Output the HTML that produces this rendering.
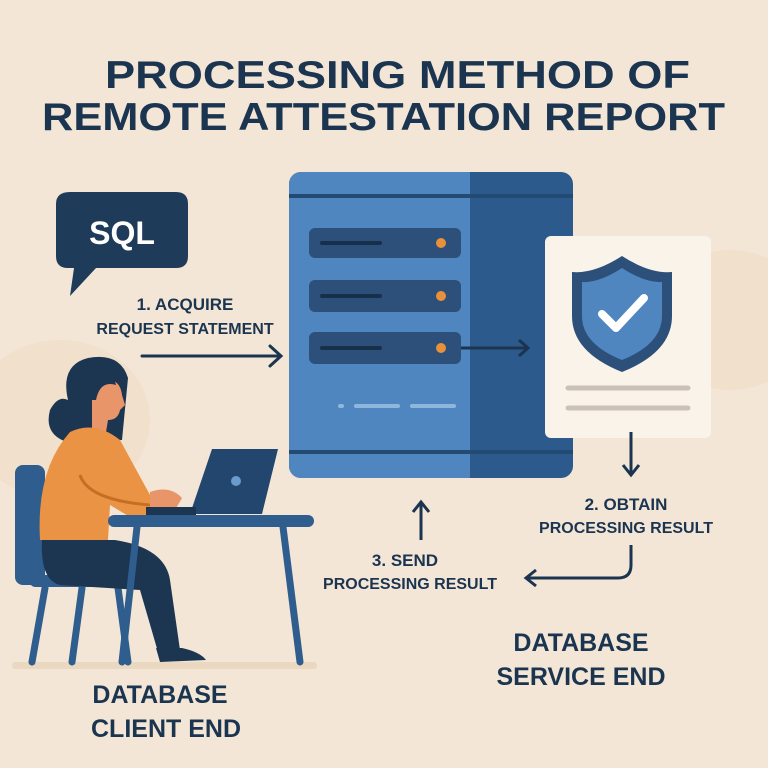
<!DOCTYPE html>
<html><head><style>
body{margin:0;background:#f3e6d6}
svg{display:block}
text{font-family:"Liberation Sans",sans-serif;font-weight:bold;fill:#1b3550}
</style></head><body>
<svg width="768" height="768" viewBox="0 0 768 768">
<rect width="768" height="768" fill="#f3e6d6"/>
<ellipse cx="60" cy="420" rx="90" ry="80" fill="#f0e0cc"/>
<ellipse cx="730" cy="320" rx="80" ry="70" fill="#f0e0cc"/>
<text x="105" y="88" font-size="39" textLength="585" lengthAdjust="spacingAndGlyphs">PROCESSING METHOD OF</text>
<text x="42" y="130" font-size="39" textLength="683" lengthAdjust="spacingAndGlyphs">REMOTE ATTESTATION REPORT</text>
<!-- SQL bubble -->
<path d="M70 192 H176 Q188 192 188 204 V256 Q188 268 176 268 H96 L70 296 L74 268 H68 Q56 268 56 256 V204 Q56 192 70 192Z" fill="#1f3b5a"/>
<text x="122" y="244" font-size="32" text-anchor="middle" style="fill:#fff">SQL</text>
<text x="185" y="310" font-size="17" text-anchor="middle">1. ACQUIRE</text>
<text x="185" y="334" font-size="16" text-anchor="middle">REQUEST STATEMENT</text>
<path d="M142 356 H280 M270 346 L281 356 L270 366" stroke="#1b3550" stroke-width="3" fill="none" stroke-linecap="round"/>
<!-- server -->
<rect x="289" y="172" width="284" height="306" rx="12" fill="#2d5a8c"/>
<rect x="289" y="172" width="191" height="306" rx="12" fill="#4f86c0"/>
<rect x="470" y="172" width="12" height="306" fill="#2d5a8c"/>
<rect x="289" y="194" width="284" height="4" fill="#234a73"/>
<rect x="289" y="450" width="284" height="4" fill="#234a73"/>
<g fill="#2c507a">
<rect x="309" y="228" width="152" height="30" rx="6"/>
<rect x="309" y="280" width="152" height="32" rx="6"/>
<rect x="309" y="332" width="152" height="32" rx="6"/>
</g>
<g stroke="#16304c" stroke-width="4" stroke-linecap="round">
<line x1="322" y1="243" x2="380" y2="243"/><line x1="322" y1="296" x2="380" y2="296"/><line x1="322" y1="348" x2="380" y2="348"/>
</g>
<g fill="#e8903a"><circle cx="441" cy="243" r="5"/><circle cx="441" cy="296" r="5"/><circle cx="441" cy="348" r="5"/></g>
<path d="M461 348 H528 M519 340 L528 348 L519 356" stroke="#1b3550" stroke-width="3" fill="none"/>
<g stroke="#8fb6dc" stroke-width="4" stroke-linecap="round"><line x1="340" y1="406" x2="342" y2="406"/><line x1="356" y1="406" x2="398" y2="406"/><line x1="412" y1="406" x2="454" y2="406"/></g>
<!-- document -->
<rect x="545" y="236" width="166" height="202" rx="6" fill="#faf3ea"/>
<path d="M622 256 Q650 274 672 272 V316 Q672 352 622 372 Q572 352 572 316 V272 Q594 274 622 256Z" fill="#2c507a"/>
<path d="M622 268 Q645 283 662 282 V316 Q662 344 622 360 Q582 344 582 316 V282 Q599 283 622 268Z" fill="#4f86c0"/>
<path d="M602 314 L616 328 L644 298" stroke="#fff" stroke-width="8" fill="none" stroke-linecap="round" stroke-linejoin="round"/>
<g stroke="#c9c2ba" stroke-width="5" stroke-linecap="round"><line x1="568" y1="388" x2="688" y2="388"/><line x1="568" y1="408" x2="688" y2="408"/></g>
<path d="M631 432 V474 M623 465 L631 475 L639 465" stroke="#1b3550" stroke-width="3" fill="none"/>
<text x="626" y="510" font-size="17" text-anchor="middle">2. OBTAIN</text>
<text x="626" y="533" font-size="16" text-anchor="middle">PROCESSING RESULT</text>
<path d="M631 545 V565 Q631 578 618 578 H527 M536 570 L526 578 L536 586" stroke="#1b3550" stroke-width="3" fill="none"/>
<path d="M421 540 V504 M413 512 L421 502 L429 512" stroke="#1b3550" stroke-width="3" fill="none"/>
<text x="405" y="566" font-size="17" text-anchor="middle">3.  SEND</text>
<text x="410" y="589" font-size="16" text-anchor="middle">PROCESSING RESULT</text>
<text x="581" y="651" font-size="25" text-anchor="middle">DATABASE</text>
<text x="581" y="685" font-size="25" text-anchor="middle">SERVICE END</text>
<text x="160" y="703" font-size="25" text-anchor="middle">DATABASE</text>
<text x="166" y="737" font-size="25" text-anchor="middle">CLIENT END</text>
<rect x="12" y="662" width="305" height="7" rx="3" fill="#ead8c0"/>
<rect x="15" y="465" width="30" height="120" rx="8" fill="#2f5d8e"/>
<rect x="30" y="575" width="105" height="12" rx="5" fill="#2f5d8e"/>
<g stroke="#2f5d8e" stroke-width="7" stroke-linecap="round"><line x1="45" y1="588" x2="32" y2="662"/><line x1="82" y1="588" x2="72" y2="662"/><line x1="118" y1="588" x2="128" y2="662"/></g>
<path d="M68 400 Q60 365 88 358 Q120 352 128 378 L122 440 Q100 440 80 445 Q42 440 50 410 Q58 395 68 400Z" fill="#1c3652"/>
<path d="M104 380 Q120 378 122 395 L125 405 L120 410 Q118 420 108 420 L106 432 L92 432 L92 400 Q92 385 104 380Z" fill="#e8956a"/>
<path d="M90 370 Q110 360 116 385 Q100 380 96 400 L88 400Z" fill="#1c3652"/>
<path d="M70 432 Q95 420 120 440 L150 495 L170 495 L170 515 L135 520 L110 505 L108 540 L40 540 Q36 470 70 432Z" fill="#ea9344"/>
<path d="M80 475 Q88 500 150 505" stroke="#c56f25" stroke-width="3" fill="none"/>
<path d="M150 492 Q170 485 182 498 L175 510 L150 510Z" fill="#e8956a"/>
<path d="M42 540 L115 540 Q165 548 170 580 L180 650 L158 652 L140 590 L60 585 Q40 580 42 540Z" fill="#1c3652"/>
<path d="M156 648 L182 648 Q200 652 206 660 L160 662Z" fill="#1c3652"/>
<path d="M212 449 L278 449 L262 514 L190 514Z" fill="#22466d"/>
<circle cx="236" cy="481" r="5" fill="#6b9bcc"/>
<rect x="146" y="507" width="50" height="8" fill="#1c3652"/>
<rect x="108" y="515" width="206" height="12" rx="6" fill="#2f5d8e"/>
<g stroke="#2f5d8e" stroke-width="7" stroke-linecap="round"><line x1="137" y1="527" x2="122" y2="662"/><line x1="283" y1="527" x2="300" y2="662"/></g>
</svg>
</body></html>
